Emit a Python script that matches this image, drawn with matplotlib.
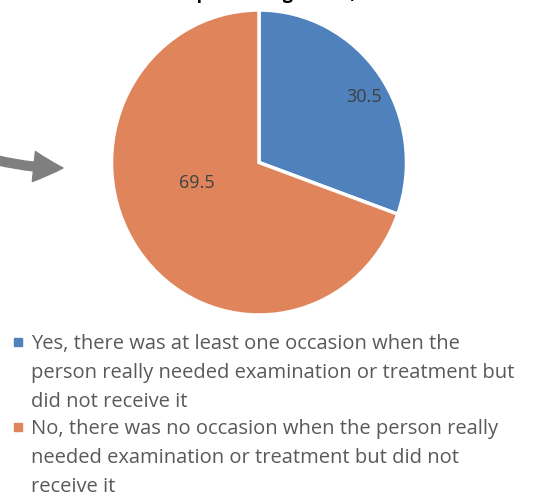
"""Pie chart of unmet need for medical examination or treatment."""

import matplotlib

matplotlib.use("Agg")
import matplotlib.pyplot as plt
from matplotlib.patches import FancyArrowPatch, Rectangle

plt.rcParams["font.family"] = ["Open Sans", "DejaVu Sans"]

categories = [
    "Yes, there was at least one occasion when the\nperson really needed examination or treatment but\ndid not receive it",
    "No, there was no occasion when the person really\nneeded examination or treatment but did not\nreceive it",
]
values = [30.5, 69.5]
colors = ["#4F81BD", "#E0855B"]
title = "Unmet need for medical examination or treatment\nof persons aged 16+, %"

W, H = 542, 495
fig = plt.figure(figsize=(W / 100, H / 100), dpi=100)

# pie axes: centre ~ (259, 162) px, radii ~147 x 152 px
cx, cy, rx, ry = 259, 162.5, 147.5, 152.5
ax = fig.add_axes([(cx - rx) / W, 1 - (cy + ry) / H, 2 * rx / W, 2 * ry / H])
wedges, texts = ax.pie(
    values,
    colors=colors,
    startangle=90,
    counterclock=False,
    radius=1.0,
    wedgeprops=dict(edgecolor="white", linewidth=2.5),
)
ax.set_xlim(-1, 1)
ax.set_ylim(-1, 1)
ax.set_aspect("auto")
ax.axis("off")

label_pos = [(0.71, 0.43), (-0.42, -0.135)]
for val, (x, y) in zip(values, label_pos):
    ax.text(x, y, f"{val}", ha="center", va="center", fontsize=13, color="#404040")

# title sits above the visible area, only its lowest part shows
fig.text(275 / W, 1 + 1 / H, title, ha="center", va="baseline", fontsize=13,
         fontweight="bold", color="black", linespacing=1.3)

# grey arrow pointing at the pie
arrow = FancyArrowPatch(
    (-4 / W, 1 - 160 / H), (63 / W, 1 - 168 / H),
    transform=fig.transFigure,
    connectionstyle="arc3,rad=0.06",
    arrowstyle="simple,head_length=1.5,head_width=1.55,tail_width=0.45",
    mutation_scale=14,
    color="#7F7F7F",
    shrinkA=0, shrinkB=0,
)
fig.patches.append(arrow)

# legend drawn by hand: square marker next to the first line of each entry
first_line_y = [342, 427]
for label, color, y in zip(categories, colors, first_line_y):
    fig.patches.append(Rectangle((14 / W, 1 - (y + 4) / H), 8 / W, 8 / H,
                                 transform=fig.transFigure, color=color))
    fig.text(31 / W, 1 - (y - 8) / H, label, ha="left", va="top", fontsize=14.5,
             color="#595959", linespacing=1.6)

fig.savefig("out.png", dpi=100)
